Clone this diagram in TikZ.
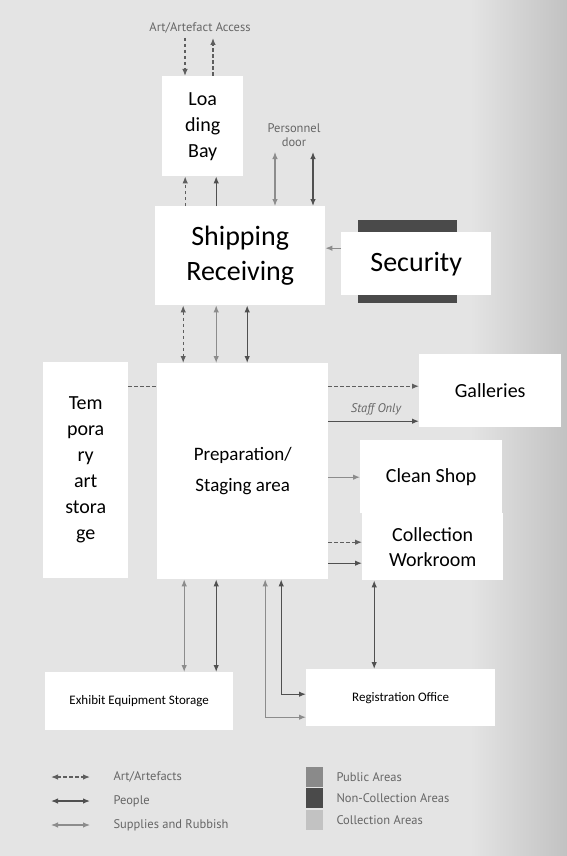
\documentclass[tikz,border=0pt]{standalone}
\usepackage{fontspec}
\setmainfont{Carlito}
\newfontfamily\notefont{PT Sans}
\usetikzlibrary{positioning,arrows.meta}

\definecolor{paper}{HTML}{E4E4E4}
\definecolor{artgray}{HTML}{5E5E5E}
\definecolor{pplgray}{HTML}{505050}
\definecolor{supgray}{HTML}{8C8C8C}
\definecolor{pubgray}{HTML}{8A8A8A}
\definecolor{noncgray}{HTML}{4A4A4A}
\definecolor{collgray}{HTML}{C2C2C2}

\begin{document}
\begin{tikzpicture}[x=1pt, y=-1pt,
    room/.style={fill=white, align=center, inner sep=0pt, anchor=north west},
    big/.style={font=\fontsize{28}{35}\selectfont},
    mid/.style={font=\fontsize{20}{26}\selectfont},
    small/.style={font=\fontsize{13}{16}\selectfont},
    note/.style={font=\notefont\fontsize{12.5}{14}\selectfont, text=black!60, align=center},
    one/.style={-{Latex[length=7pt,width=5.5pt]}},
    both/.style={{Latex[length=7pt,width=5.5pt]}-{Latex[length=7pt,width=5.5pt]}},
    artflow/.style={dash pattern=on 3.5pt off 2.5pt, line width=1.2pt, draw=artgray},
    ppl/.style={line width=1.2pt, draw=pplgray},
    sup/.style={line width=1.1pt, draw=supgray},
    swatch/.style={minimum width=17pt, minimum height=20.5pt, inner sep=0pt}
  ]
  \useasboundingbox (0,0) rectangle (567,856);
  \fill[paper] (0,0) rectangle (567,856);
  \shade[left color=paper, right color=black!24] (470,0) rectangle (567,856);

  % rooms
  \node[room, mid, minimum width=81pt, minimum height=100pt] (load) at (162,76) {Loa\\ding\\Bay};
  \node[room, big, minimum width=170pt, minimum height=99pt] (ship) at (155,206) {Shipping\\Receiving};
  \node[fill=noncgray, minimum width=99pt, minimum height=83pt, inner sep=0pt, anchor=north west] (secbg) at (358,220) {};
  \node[room, big, minimum width=150pt, minimum height=63pt] (sec) at (341,232) {Security};
  \node[room, font=\fontsize{19}{31}\selectfont, minimum width=171pt, minimum height=216pt] (prep) at (157,363) {Preparation/\\Staging area};
  \node[room, mid, minimum width=85pt, minimum height=216pt] (temp) at (43,362) {Tem\\pora\\ry\\art\\stora\\ge};
  \node[room, mid, minimum width=142pt, minimum height=73pt] (gal) at (419,354) {Galleries};
  \node[room, mid, minimum width=142pt, minimum height=73pt] (clean) at (360,440) {Clean Shop};
  \node[room, font=\fontsize{20}{25}\selectfont, minimum width=141pt, minimum height=67pt] (coll) at (362,513) {Collection\\Workroom};
  \node[room, small, minimum width=188pt, minimum height=58pt] (exh) at (45,672) {Exhibit Equipment Storage};
  \node[room, small, minimum width=189pt, minimum height=57pt] (reg) at (306,669) {Registration Office};

  % labels
  \node[note] (access) at (200,28) {Art/Artefact Access};
  \node[note] (door) at (294,135) {Personnel\\door};
  \node[note, font=\notefont\itshape\fontsize{12.5}{14}\selectfont] (staff) at (376,409) {Staff Only};

  % loading bay
  \coordinate (artin) at (185,38);
  \coordinate (artout) at (213,38);
  \draw[artflow, one] (artin) -- (artin |- load.north);
  \draw[artflow, one] (artout |- load.north) -- (artout);
  \draw[artflow, one] ([xshift=-55pt]ship.north) -- ([xshift=-55pt]ship.north |- load.south);
  \draw[ppl, one] ([xshift=-24pt]ship.north) -- ([xshift=-24pt]ship.north |- load.south);

  % personnel door
  \coordinate (door1) at (275,152);
  \coordinate (door2) at (313,152);
  \draw[sup, both] (door1) -- (door1 |- ship.north);
  \draw[ppl, both] (door2) -- (door2 |- ship.north);

  % security
  \coordinate (s1) at ([yshift=15.5pt]sec.west);
  \draw[sup, one] (s1) -- (s1 -| ship.east);

  % shipping to preparation
  \draw[artflow, both] ([xshift=-57pt]ship.south) -- ([xshift=-57pt]ship.south |- prep.north);
  \draw[sup, both] ([xshift=-24pt]ship.south) -- ([xshift=-24pt]ship.south |- prep.north);
  \draw[ppl, both] ([xshift=7pt]ship.south) -- ([xshift=7pt]ship.south |- prep.north);

  % preparation to the side
  \draw[artflow] ([yshift=84pt]temp.east) -- ([yshift=84pt]temp.east -| prep.west);
  \draw[artflow, one] ([yshift=85pt]prep.east) -- ([yshift=85pt]prep.east -| gal.west);
  \draw[ppl, one] ([yshift=50pt]prep.east) -- ([yshift=50pt]prep.east -| gal.west);
  \draw[sup, one] ([yshift=-6pt]prep.east) -- ([yshift=-6pt]prep.east -| clean.west);
  \draw[artflow, one] ([yshift=-71pt]prep.east) -- ([yshift=-71pt]prep.east -| coll.west);
  \draw[ppl, one] ([yshift=-92pt]prep.east) -- ([yshift=-92pt]prep.east -| coll.west);

  % preparation downwards
  \draw[sup, both] ([xshift=-58.5pt]prep.south) -- ([xshift=-58.5pt]prep.south |- exh.north);
  \draw[ppl, both] ([xshift=-26.5pt]prep.south) -- ([xshift=-26.5pt]prep.south |- exh.north);
  \draw[sup, both] ([xshift=22.5pt]prep.south) |- ([yshift=-19.5pt]reg.west);
  \draw[ppl, both] ([xshift=38.5pt]prep.south) |- ([yshift=3.5pt]reg.west);
  \draw[ppl, both] ([xshift=-58.5pt]coll.south) -- ([xshift=-58.5pt]coll.south |- reg.north);

  % key
  \foreach \y/\s/\t [count=\i] in {777/artflow/Art\slash Artefacts, 801/ppl/People, 825/sup/Supplies and Rubbish} {
    \coordinate (ka\i) at (51,\y);
    \coordinate (kb\i) at (90,\y);
    \draw[\s, both] (ka\i) -- (kb\i);
    \node[note, anchor=west] (kt\i) at (110,\y) {\t};
  }
  \foreach \y/\c/\t [count=\i] in {777/pubgray/Public Areas, 798/noncgray/Non-Collection Areas, 820/collgray/Collection Areas} {
    \node[swatch, fill=\c] (ks\i) at (314.5,\y) {};
    \node[note, anchor=west] (kl\i) at (333,\y) {\t};
  }
\end{tikzpicture}
\end{document}
